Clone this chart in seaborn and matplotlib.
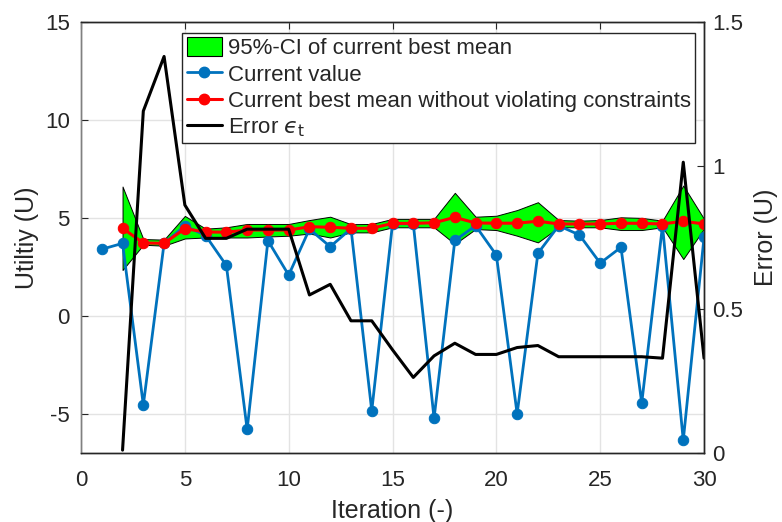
import numpy as np
import pandas as pd
import matplotlib
matplotlib.use("Agg")
import matplotlib.pyplot as plt
from matplotlib.patches import Patch
from matplotlib.lines import Line2D
import seaborn as sns

# Iterations and measured utility of each evaluated point
iterations = list(range(1, 31))
current_value = [3.4, 3.7, -4.55, 3.7, 4.6, 4.1, 2.57, -5.8, 3.84, 2.08,
                 4.43, 3.53, 4.45, -4.85, 4.7, 4.7, -5.23, 3.85, 4.6, 3.1,
                 -5.0, 3.19, 4.6, 4.13, 2.69, 3.5, -4.45, 4.6, -6.35, 4.0]

# Best mean estimate (without constraint violation), from iteration 2 on
best_iterations = list(range(2, 31))
best_mean = [4.47, 3.72, 3.7, 4.45, 4.28, 4.27, 4.38, 4.38, 4.38, 4.55,
             4.52, 4.47, 4.47, 4.72, 4.72, 4.75, 5.03, 4.74, 4.73, 4.73,
             4.83, 4.69, 4.69, 4.69, 4.73, 4.72, 4.69, 4.83, 4.69]
ci_upper = [6.6, 3.92, 3.89, 5.1, 4.45, 4.52, 4.69, 4.69, 4.69, 4.89,
            5.06, 4.68, 4.69, 4.95, 4.95, 4.95, 6.28, 5.06, 5.11, 5.4,
            5.8, 4.89, 4.86, 4.89, 5.03, 5.0, 4.86, 6.65, 4.95]
ci_lower = [2.34, 3.63, 3.58, 3.95, 4.0, 4.0, 4.0, 4.05, 4.09, 4.2,
            4.0, 4.26, 4.26, 4.52, 4.52, 4.52, 3.67, 4.43, 4.38, 4.09,
            3.75, 4.52, 4.52, 4.52, 4.38, 4.38, 4.52, 2.9, 4.45]

# Error of the best mean estimate (right axis)
error_eps = [0.01, 1.19, 1.38, 0.863, 0.747, 0.747, 0.779, 0.779, 0.779, 0.55,
             0.587, 0.46, 0.46, 0.359, 0.263, 0.338, 0.382, 0.343, 0.343, 0.367,
             0.374, 0.335, 0.335, 0.335, 0.335, 0.335, 0.33, 1.012, 0.33]

sns.set_style("white")
plt.rcParams["font.family"] = ["Liberation Sans", "DejaVu Sans"]
plt.rcParams["mathtext.fontset"] = "dejavusans"
plt.rcParams["axes.unicode_minus"] = False

BLUE = "#0072BD"
RED = "#FF0000"
GREEN = "#00FF00"
TXT = "#262626"
TICK_FS = 16
LABEL_FS = 18

df_cur = pd.DataFrame({"it": iterations, "val": current_value})
df_best = pd.DataFrame({"it": best_iterations, "mean": best_mean,
                        "lo": ci_lower, "hi": ci_upper, "err": error_eps})

fig = plt.figure(figsize=(7.82, 5.22), dpi=100)
ax = fig.add_axes([0.1036, 0.1322, 0.7967, 0.8257])

ax.fill_between(df_best["it"], df_best["lo"], df_best["hi"],
                facecolor=GREEN, edgecolor="black", linewidth=0.7, zorder=2)
sns.lineplot(data=df_cur, x="it", y="val", ax=ax, color=BLUE, linewidth=2,
             marker="o", markersize=7.5, markeredgecolor=BLUE, zorder=3)
sns.lineplot(data=df_best, x="it", y="mean", ax=ax, color=RED, linewidth=2.2,
             marker="o", markersize=7.5, markeredgecolor=RED, zorder=4)

ax.set_xlim(0, 30)
ax.set_ylim(-7, 15)
ax.set_xticks(range(0, 31, 5))
ax.set_yticks([-5, 0, 5, 10, 15])
ax.grid(True, color="#e3e3e3", linewidth=1)
ax.set_axisbelow(True)
ax.set_xlabel("Iteration (-)", fontsize=LABEL_FS, color=TXT, labelpad=6)
ax.set_ylabel("Utiltiy (U)", fontsize=LABEL_FS, color=TXT, labelpad=4)
ax.tick_params(axis="both", direction="in", length=5, labelsize=TICK_FS,
               colors=TXT, top=True)
ax.tick_params(axis="x", pad=12)
ax.tick_params(axis="y", pad=8)

ax2 = ax.twinx()
sns.lineplot(data=df_best, x="it", y="err", ax=ax2, color="black", linewidth=2.2)
ax2.set_ylim(0, 1.5)
ax2.set_yticks([0, 0.5, 1, 1.5])
ax2.set_yticklabels(["0", "0.5", "1", "1.5"])
ax2.set_ylabel("Error (U)", fontsize=LABEL_FS, color=TXT, labelpad=8)
ax2.tick_params(axis="y", direction="in", length=5, labelsize=TICK_FS,
                colors=TXT, pad=6)
ax2.grid(False)

for a in (ax, ax2):
    for s in a.spines.values():
        s.set_color(TXT)
        s.set_linewidth(1)
ax.spines["left"].set_color("#808080")
ax2.spines["left"].set_color("#808080")

handles = [
    Patch(facecolor=GREEN, edgecolor="black", linewidth=0.8),
    Line2D([], [], color=BLUE, linewidth=2, marker="o", markersize=7.5),
    Line2D([], [], color=RED, linewidth=2.2, marker="o", markersize=7.5),
    Line2D([], [], color="black", linewidth=2.2),
]
labels = ["95%-CI of current best mean", "Current value",
          "Current best mean without violating constraints",
          "Error $\u03f5_{\\mathrm{t}}$"]
leg = ax2.legend(handles, labels, loc="upper right",
                 bbox_to_anchor=(0.9856, 0.9745), borderaxespad=0,
                 fontsize=16, frameon=True, fancybox=False, framealpha=1,
                 edgecolor=TXT, handlelength=1.6, handleheight=0.9,
                 handletextpad=0.25, labelspacing=0.2, borderpad=0.2)
leg.get_frame().set_linewidth(1)

fig.savefig("out.png", dpi=100)
